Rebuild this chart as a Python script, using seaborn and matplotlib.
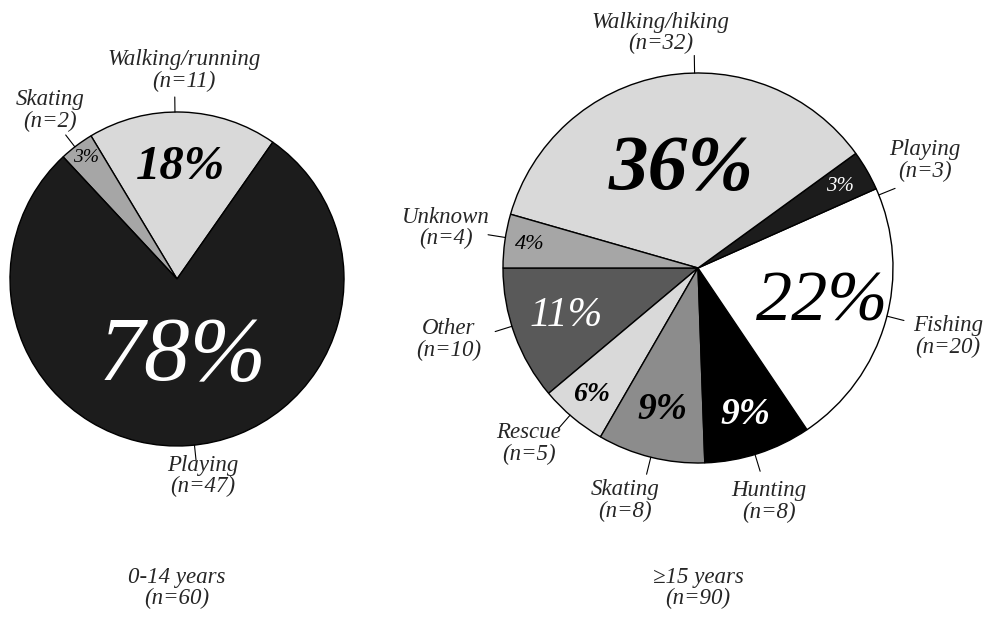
import numpy as np
import seaborn as sns
import matplotlib.pyplot as plt

# counts per activity, listed counter-clockwise from the start angle
young_labels = ["Walking/running", "Skating", "Playing"]
young_counts = [11, 2, 47]
old_labels = ["Other", "Rescue", "Skating", "Hunting", "Fishing", "Playing",
              "Walking/hiking", "Unknown"]
old_counts = [10, 5, 8, 8, 20, 3, 32, 4]
group_names = ["0-14 years", "\u226515 years"]
group_n = [60, 90]

sns.set_theme(style="white")
plt.rcParams["font.family"] = ["Liberation Serif", "DejaVu Serif"]
plt.rcParams["font.style"] = "italic"

# styling per wedge
young_style = dict(
    center=(177, 343), radius=167, startangle=55,
    colors=["#d9d9d9", "#a6a6a6", "#1c1c1c"],
    pct_size=[35, 14, 66], pct_dist=[0.67, 0.91, 0.47],
    pct_color=["black", "black", "white"], pct_bold=[True, False, False],
    lab_off=[0, 0, 3.5], lab_dist=[1.25, 1.26, 1.19],
    lead_off=[2.7, 0.7, 2],
)
old_style = dict(
    center=(698, 354), radius=195, startangle=180,
    colors=["#595959", "#d9d9d9", "#8c8c8c", "#000000", "#ffffff",
            "#1c1c1c", "#d9d9d9", "#a6a6a6"],
    pct_size=[30, 20, 27, 27, 52, 15, 57, 16],
    pct_dist=[0.72, 0.85, 0.75, 0.79, 0.66, 0.84, 0.51, 0.87],
    pct_color=["white", "black", "black", "white", "black", "white", "black", "black"],
    pct_bold=[False, True, True, True, False, False, True, False],
    lab_off=[-4, -4, -3.5, -1, 0.6, -4.6, -1, -1],
    lab_dist=[1.33, 1.25, 1.25, 1.25, 1.33, 1.29, 1.22, 1.31],
    lead_off=[-2.6, -1, 0, -1, 1.7, -8, -9, -1],
)

fig = plt.figure(figsize=(9.85, 6.22), dpi=100)
ax = fig.add_axes([0, 0, 1, 1])


def draw_pie(labels, counts, st):
    cx, cy = st["center"]
    r = st["radius"]
    total = sum(counts)
    wedges, _ = ax.pie(counts, colors=st["colors"], startangle=st["startangle"],
                       counterclock=True, center=st["center"], radius=r,
                       wedgeprops=dict(edgecolor="black", linewidth=1.0))
    for i, w in enumerate(wedges):
        mid = (w.theta1 + w.theta2) / 2
        a = np.deg2rad(mid)
        d = st["pct_dist"][i] * r
        ax.text(cx + d * np.cos(a), cy + d * np.sin(a),
                f"{round(100 * counts[i] / total)}%",
                ha="center", va="center", fontsize=st["pct_size"][i],
                color=st["pct_color"][i],
                fontweight="bold" if st["pct_bold"][i] else "normal")
        # leader line
        la = np.deg2rad(mid + st["lead_off"][i])
        ax.plot([cx + r * np.cos(la), cx + 1.09 * r * np.cos(la)],
                [cy + r * np.sin(la), cy + 1.09 * r * np.sin(la)],
                color="black", linewidth=0.8)
        ta = np.deg2rad(mid + st["lab_off"][i])
        td = st["lab_dist"][i] * r
        ax.text(cx + td * np.cos(ta), cy + td * np.sin(ta),
                f"{labels[i]}\n(n={counts[i]})",
                ha="center", va="center", fontsize=16.5, linespacing=1.05)


draw_pie(young_labels, young_counts, young_style)
draw_pie(old_labels, old_counts, old_style)

for st, name, n in zip([young_style, old_style], group_names, group_n):
    ax.text(st["center"][0], 34, f"{name}\n(n={n})", ha="center", va="center",
            fontsize=16.5, linespacing=1.05)

ax.set_xlim(0, 985)
ax.set_ylim(0, 622)
ax.set_aspect("auto")
ax.axis("off")

fig.savefig("out.png", dpi=100, facecolor="white")
